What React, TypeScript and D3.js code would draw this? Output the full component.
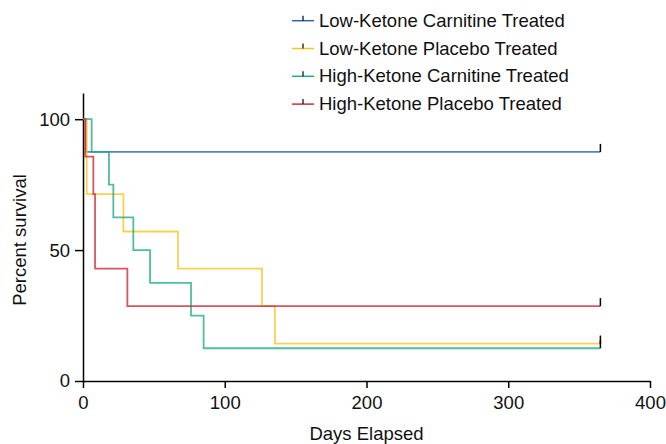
import * as d3 from "d3";
import React, { useEffect, useRef } from "react";

// group names (legend order)
const groupNames = [
  "Low-Ketone Carnitine Treated",
  "Low-Ketone Placebo Treated",
  "High-Ketone Carnitine Treated",
  "High-Ketone Placebo Treated",
];
const groupColors = ["#2f62ad", "#f9c51f", "#22ad88", "#cc2a3c"];

// event days and survival (%) after each event, per group
const lowCarnDays = [2.2];
const lowCarnSurv = [87.5];
const lowPlacDays = [2.6, 28.5, 67, 126.3, 135.4];
const lowPlacSurv = [71.4, 57.1, 42.9, 28.6, 14.3];
const highCarnDays = [6.1, 18.3, 21.4, 35.5, 47.3, 76.2, 85.1];
const highCarnSurv = [87.5, 75, 62.5, 50, 37.5, 25, 12.5];
const highPlacDays = [1.5, 7.3, 8.5, 31.3];
const highPlacSurv = [85.7, 71.4, 42.9, 28.6];

const studyEnd = 365;
const xTicks = [0, 100, 200, 300, 400];
const yTicks = [0, 50, 100];

const width = 666;
const height = 444;
const FONT = "'Liberation Sans', Arial, sans-serif";
const FS = 18.5;

export default function App() {
  const ref = useRef<SVGSVGElement>(null);

  useEffect(() => {
    const svg = d3.select(ref.current);
    svg.selectAll("*").remove();

    const x = d3.scaleLinear().domain([0, 400]).range([83, 650]);
    const y = d3.scaleLinear().domain([0, 110]).range([381, 93]);

    const groups = [
      [lowCarnDays, lowCarnSurv],
      [lowPlacDays, lowPlacSurv],
      [highCarnDays, highCarnSurv],
      [highPlacDays, highPlacSurv],
    ].map(([days, surv]) => {
      const pts: [number, number][] = [[0, 100]];
      days.forEach((d, i) => pts.push([d, surv[i]]));
      pts.push([studyEnd, surv[surv.length - 1]]);
      return pts;
    });

    const line = d3
      .line<[number, number]>()
      .x((d) => x(d[0]))
      .y((d) => y(d[1]))
      .curve(d3.curveStepAfter);

    // axes
    const xAxis = svg
      .append("g")
      .attr("transform", `translate(0, ${y(0)})`)
      .call(d3.axisBottom(x).tickValues(xTicks).tickSize(7).tickPadding(8).tickSizeOuter(0));
    const yAxis = svg
      .append("g")
      .attr("transform", `translate(${x(0)}, 0)`)
      .call(d3.axisLeft(y).tickValues(yTicks).tickSize(8).tickPadding(5).tickSizeOuter(0));
    [xAxis, yAxis].forEach((ax) => {
      ax.selectAll("path, line").attr("stroke", "#000").attr("stroke-width", 1.5);
      ax.selectAll("text")
        .attr("font-family", FONT)
        .attr("font-size", FS)
        .attr("fill", "#111");
    });

    svg
      .append("text")
      .attr("x", (x(0) + x(400)) / 2)
      .attr("y", 440)
      .attr("text-anchor", "middle")
      .attr("font-family", FONT)
      .attr("font-size", FS)
      .attr("fill", "#111")
      .text("Days Elapsed");
    svg
      .append("text")
      .attr("transform", `translate(26, ${(y(0) + y(110)) / 2 + 3}) rotate(-90)`)
      .attr("text-anchor", "middle")
      .attr("font-family", FONT)
      .attr("font-size", FS)
      .attr("fill", "#111")
      .text("Percent survival");

    // survival curves
    groups.forEach((pts, i) => {
      svg
        .append("path")
        .attr("d", line(pts))
        .attr("fill", "none")
        .attr("stroke", groupColors[i])
        .attr("stroke-width", 1.8)
        .attr("opacity", 0.8);
    });

    // censor ticks at study end
    groups.forEach((pts) => {
      const last = pts[pts.length - 1];
      svg
        .append("line")
        .attr("x1", x(last[0]))
        .attr("x2", x(last[0]))
        .attr("y1", y(last[1]))
        .attr("y2", y(last[1]) - 8)
        .attr("stroke", "#000")
        .attr("stroke-width", 1.5);
    });

    // legend
    const legend = svg.append("g");
    groupNames.forEach((name, i) => {
      const ly = 20.7 + i * 27.8;
      legend
        .append("line")
        .attr("x1", 292)
        .attr("x2", 314)
        .attr("y1", ly)
        .attr("y2", ly)
        .attr("stroke", groupColors[i])
        .attr("stroke-width", 1.5);
      legend
        .append("line")
        .attr("x1", 303)
        .attr("x2", 303)
        .attr("y1", ly)
        .attr("y2", ly - 5)
        .attr("stroke", "#000")
        .attr("stroke-width", 1.2);
      legend
        .append("text")
        .attr("x", 319)
        .attr("y", ly + 6)
        .attr("font-family", FONT)
        .attr("font-size", FS)
        .attr("fill", "#111")
        .text(name);
    });
  }, []);

  return (
    <svg
      ref={ref}
      width={width}
      height={height}
      style={{ position: "absolute", left: 0, top: 0, background: "#fff" }}
    />
  );
}
